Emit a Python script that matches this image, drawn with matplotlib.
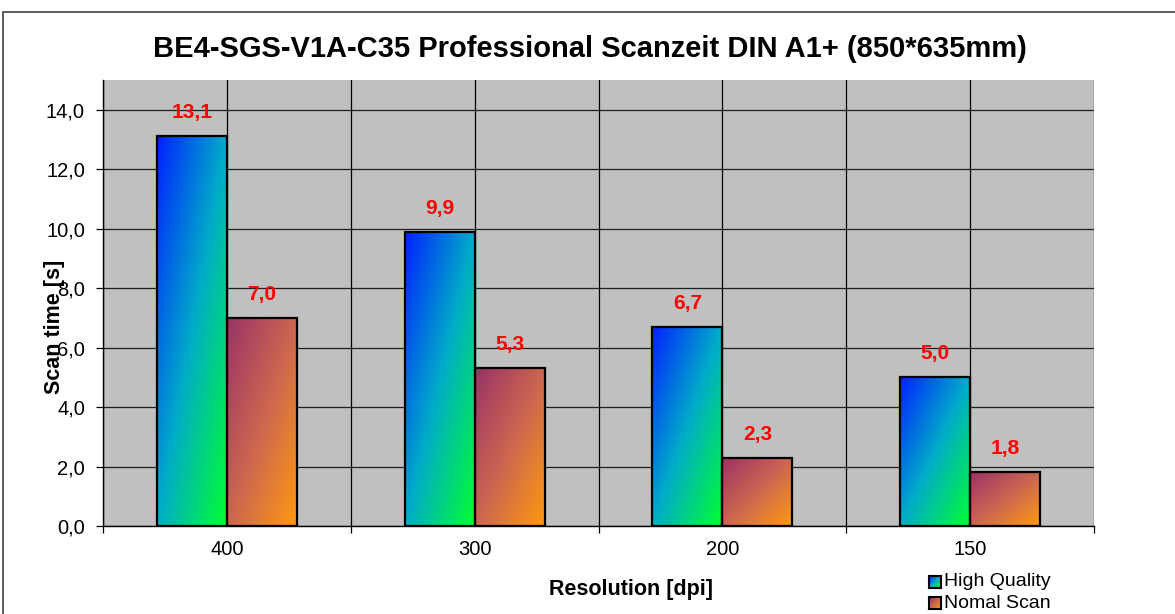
import numpy as np
import matplotlib.pyplot as plt
from matplotlib.colors import LinearSegmentedColormap
from matplotlib.patches import Rectangle

plt.rcParams['font.family'] = ['Liberation Sans', 'DejaVu Sans']

# data
resolutions = ['400', '300', '200', '150']
high_quality = [13.1, 9.9, 6.7, 5.0]
normal_scan = [7.0, 5.3, 2.3, 1.8]
series_names = ['High Quality', 'Nomal Scan']
title = 'BE4-SGS-V1A-C35 Professional Scanzeit DIN A1+ (850*635mm)'

W, H = 1175, 614
fig = plt.figure(figsize=(W / 100, H / 100), dpi=100)
fig.patch.set_facecolor('white')

# outer chart frame
fig.add_artist(Rectangle((3 / W, -0.1), 1.2, 1 - 12 / H + 0.1, transform=fig.transFigure,
                         fill=False, edgecolor='#404040', lw=1.2))

ax = fig.add_axes([103 / W, 1 - 526 / H, (1094 - 103) / W, (526 - 80) / H])
ax.set_facecolor('#c0c0c0')

cmap_hq = LinearSegmentedColormap.from_list('hq', ['#0022ff', '#00acc8', '#00ff30'])
cmap_ns = LinearSegmentedColormap.from_list('ns', ['#993366', '#cc6650', '#ff9a10'])


def gradient(n_u, n_v):
    U, V = np.meshgrid(np.linspace(0, 1, n_u), np.linspace(0, 1, n_v))
    # diagonal: top-left -> bottom-right (row 0 is the top)
    return (U + V) / 2


def gradient_bar(ax, x0, w, h, cmap):
    ax.imshow(gradient(60, 200), cmap=cmap, extent=[x0, x0 + w, 0, h], aspect='auto',
              origin='upper', vmin=0, vmax=1, zorder=3, interpolation='bilinear')
    ax.add_patch(Rectangle((x0, 0), w, h, fill=False, edgecolor='black', lw=1.6, zorder=4))


bw = 0.283
centers = np.arange(len(resolutions)) + 0.5
for c, hq, ns in zip(centers, high_quality, normal_scan):
    gradient_bar(ax, c - bw, bw, hq, cmap_hq)
    gradient_bar(ax, c, bw, ns, cmap_ns)
    for xc, val in [(c - bw / 2, hq), (c + bw / 2, ns)]:
        ax.annotate(f'{val:.1f}'.replace('.', ','), (xc, val), xytext=(0, 17),
                    textcoords='offset points', ha='center', va='center',
                    color='red', fontweight='bold', fontsize=15, zorder=5)

ax.set_xlim(0, 4)
ax.set_ylim(0, 15)
ax.set_yticks(np.arange(0, 15, 2))
ax.set_yticklabels([f'{v:.1f}'.replace('.', ',') for v in np.arange(0, 15, 2)], fontsize=14.5)
ax.set_xticks(np.arange(0, 5))
ax.set_xticklabels([])
ax.set_xticks(centers, minor=True)
ax.set_xticklabels(resolutions, minor=True, fontsize=14.5)
ax.tick_params(axis='x', which='minor', length=0, pad=10)
ax.tick_params(axis='x', which='major', length=5, direction='out', width=0.9)
ax.tick_params(axis='y', length=5, direction='out', width=0.9, pad=8)

ax.grid(True, axis='y', color='#202020', lw=0.9, zorder=1)
ax.grid(True, axis='x', which='both', color='black', lw=0.9, zorder=1)
ax.set_axisbelow(True)
for s in ['top', 'right']:
    ax.spines[s].set_visible(False)
for s in ['left', 'bottom']:
    ax.spines[s].set_color('black')
    ax.spines[s].set_linewidth(1.0)

ax.set_ylabel('Scan time [s]', fontsize=15.5, fontweight='bold')
ax.yaxis.set_label_coords(-(103 - 65) / 991, (526 - 327) / 446)
ax.set_xlabel('Resolution [dpi]', fontsize=15.5, fontweight='bold')
ax.xaxis.set_label_coords((631 - 103) / 991, -(590 - 526) / 446)
ax.xaxis.label.set_va('center')

fig.text(590 / W, 1 - 49 / H, title, ha='center', va='center', fontsize=21, fontweight='bold')

# legend squares with gradients
for i, (name, cm) in enumerate(zip(series_names, [cmap_hq, cmap_ns])):
    yc = 582 + i * 21
    lax = fig.add_axes([929 / W, 1 - (yc + 6) / H, 12 / W, 12 / H])
    lax.imshow(gradient(20, 20), cmap=cm, vmin=0, vmax=1, aspect='auto')
    lax.set_xticks([])
    lax.set_yticks([])
    for sp in lax.spines.values():
        sp.set_linewidth(1.5)
        sp.set_color('black')
    fig.text(944 / W, 1 - yc / H, name, ha='left', va='center', fontsize=14)

fig.savefig('out.png', dpi=100)
